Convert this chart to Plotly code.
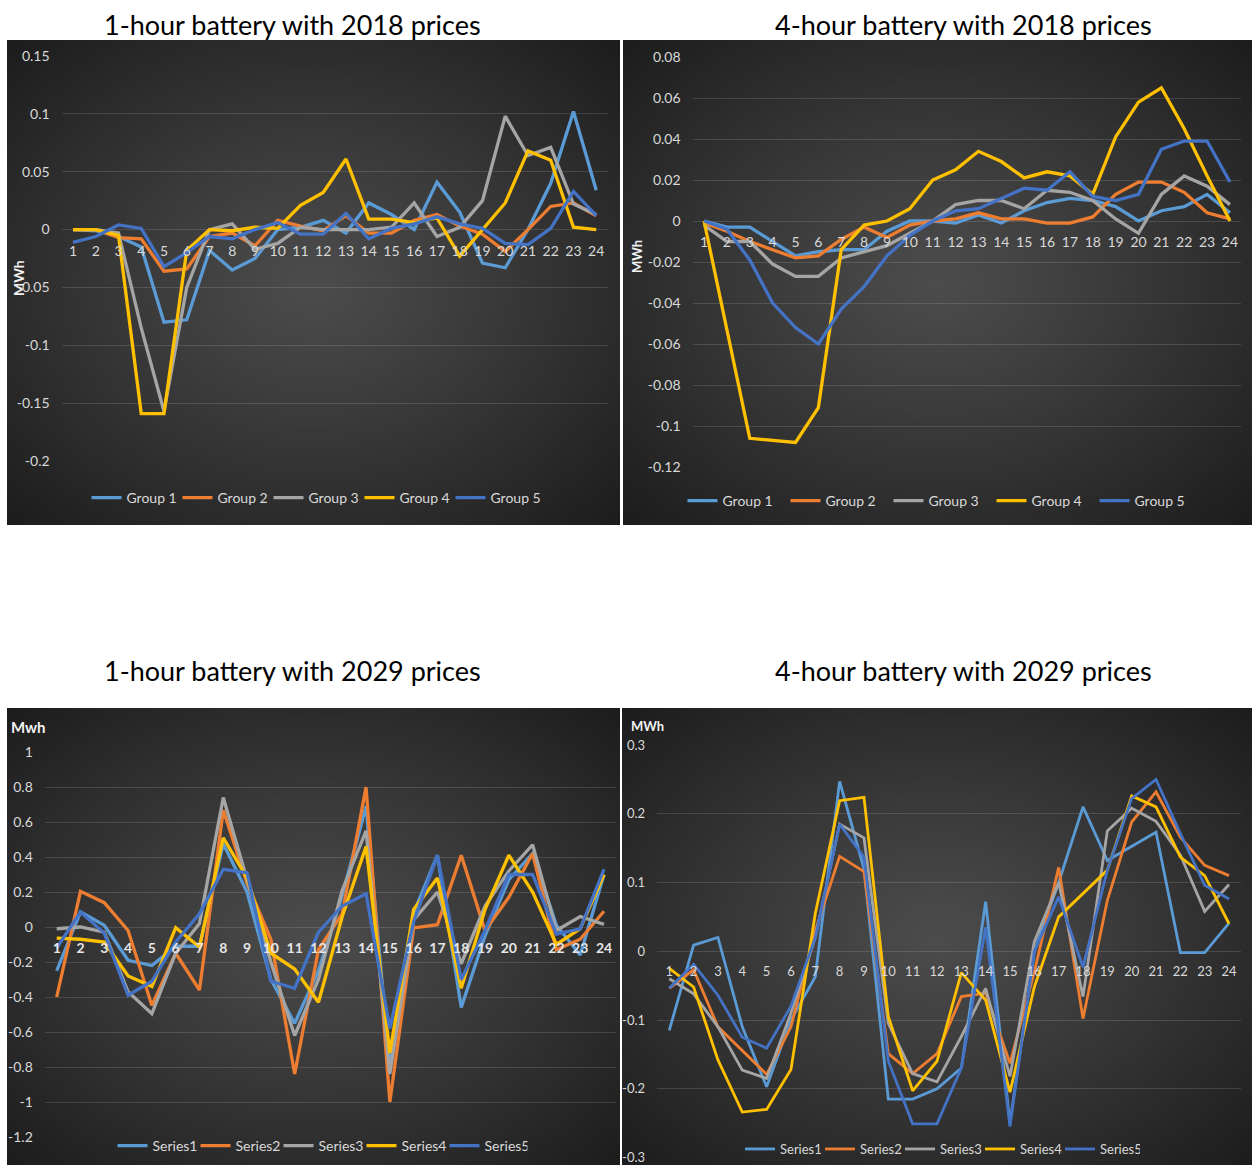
import base64, struct, zlib, math
import plotly.graph_objects as go

W, H = 1252, 1165
hours = list(range(1, 25))
hour_labels = [str(h) for h in hours]

# ---- 1-hour battery, 2018 prices (MWh)
h1_2018_g1 = [0, -0.001, -0.006, -0.015, -0.080, -0.078, -0.018, -0.035, -0.025, 0.0, 0.002, 0.008,
              -0.003, 0.023, 0.013, 0.0, 0.041, 0.015, -0.029, -0.033, 0.0, 0.040, 0.102, 0.034]
h1_2018_g2 = [0, 0, -0.007, -0.008, -0.036, -0.034, -0.006, -0.003, -0.014, 0.008, 0.003, -0.001,
              0.012, -0.003, -0.003, 0.008, 0.013, 0.003, -0.004, -0.019, 0.0, 0.020, 0.023, 0.012]
h1_2018_g3 = [0, 0, -0.003, -0.085, -0.157, -0.050, 0.0, 0.005, -0.017, -0.012, 0.002, 0.0,
              0.0, 0.0, 0.002, 0.023, -0.006, 0.002, 0.025, 0.098, 0.064, 0.071, 0.022, 0.013]
h1_2018_g4 = [0, 0, -0.005, -0.159, -0.159, -0.018, 0.0, -0.001, 0.002, 0.001, 0.021, 0.032,
              0.061, 0.009, 0.009, 0.006, 0.010, -0.023, 0.0, 0.023, 0.068, 0.060, 0.002, 0.0]
h1_2018_g5 = [-0.011, -0.006, 0.004, 0.001, -0.032, -0.020, -0.006, -0.008, 0.0, 0.006, -0.004, -0.004,
              0.014, -0.008, 0.001, 0.005, 0.011, 0.005, 0.001, -0.012, -0.013, 0.001, 0.033, 0.012]

# ---- 4-hour battery, 2018 prices (MWh)
h4_2018_g1 = [0, -0.003, -0.003, -0.010, -0.017, -0.015, -0.014, -0.014, -0.005, 0.0, 0.0, -0.001,
              0.003, -0.001, 0.005, 0.009, 0.011, 0.010, 0.007, 0.0, 0.005, 0.007, 0.013, 0.004]
h4_2018_g2 = [-0.001, -0.005, -0.010, -0.014, -0.018, -0.017, -0.009, -0.003, -0.008, -0.002, 0.0, 0.001,
              0.004, 0.001, 0.001, -0.001, -0.001, 0.002, 0.013, 0.019, 0.019, 0.014, 0.004, 0.001]
h4_2018_g3 = [-0.002, -0.010, -0.010, -0.021, -0.027, -0.027, -0.018, -0.015, -0.012, -0.006, 0.0, 0.008,
              0.010, 0.010, 0.006, 0.015, 0.014, 0.010, 0.001, -0.006, 0.013, 0.022, 0.017, 0.008]
h4_2018_g4 = [0, -0.053, -0.106, -0.107, -0.108, -0.091, -0.014, -0.002, 0.0, 0.006, 0.020, 0.025,
              0.034, 0.029, 0.021, 0.024, 0.022, 0.013, 0.041, 0.058, 0.065, 0.045, 0.022, 0.0]
h4_2018_g5 = [0, -0.004, -0.019, -0.040, -0.052, -0.060, -0.043, -0.032, -0.017, -0.007, 0.0, 0.005,
              0.006, 0.011, 0.016, 0.015, 0.024, 0.012, 0.010, 0.013, 0.035, 0.039, 0.039, 0.019]

# ---- 1-hour battery, 2029 prices (MWh)
h1_2029_s1 = [-0.25, 0.086, 0.01, -0.19, -0.22, -0.11, -0.11, 0.476, 0.20, -0.30, -0.55, -0.25,
              0.18, 0.69, -0.80, 0.08, 0.41, -0.46, -0.05, 0.27, 0.42, 0.01, -0.16, 0.30]
h1_2029_s2 = [-0.40, 0.204, 0.139, -0.02, -0.448, -0.15, -0.36, 0.667, 0.25, -0.07, -0.84, -0.13,
              0.076, 0.80, -1.0, -0.005, 0.013, 0.41, -0.02, 0.17, 0.42, -0.13, -0.07, 0.09]
h1_2029_s3 = [-0.01, 0.0, -0.03, -0.37, -0.495, -0.15, 0.02, 0.74, 0.27, -0.20, -0.62, -0.30,
              0.21, 0.55, -0.84, 0.04, 0.20, -0.21, 0.12, 0.32, 0.47, -0.02, 0.06, 0.015]
h1_2029_s4 = [-0.063, -0.07, -0.086, -0.28, -0.34, -0.004, -0.114, 0.51, 0.28, -0.15, -0.24, -0.43,
              0.06, 0.46, -0.72, 0.10, 0.28, -0.35, 0.10, 0.41, 0.20, -0.10, -0.01, 0.30]
h1_2029_s5 = [-0.12, 0.086, -0.035, -0.39, -0.31, -0.086, 0.076, 0.33, 0.31, -0.31, -0.35, -0.03,
              0.12, 0.19, -0.58, 0.03, 0.41, -0.30, -0.02, 0.30, 0.30, -0.04, -0.01, 0.33]

# ---- 4-hour battery, 2029 prices (MWh)
h4_2029_s1 = [-0.115, 0.009, 0.02, -0.11, -0.197, -0.10, -0.037, 0.247, 0.12, -0.215, -0.215, -0.20,
              -0.17, 0.072, -0.25, 0.0, 0.10, 0.21, 0.132, 0.152, 0.173, -0.002, -0.002, 0.041]
h4_2029_s2 = [-0.054, -0.027, -0.11, -0.144, -0.179, -0.11, 0.03, 0.138, 0.116, -0.149, -0.178, -0.149,
              -0.066, -0.061, -0.163, -0.03, 0.122, -0.098, 0.074, 0.188, 0.232, 0.166, 0.125, 0.11]
h4_2029_s3 = [-0.04, -0.062, -0.11, -0.173, -0.185, -0.09, 0.02, 0.185, 0.165, -0.105, -0.178, -0.19,
              -0.124, -0.054, -0.182, 0.014, 0.10, -0.066, 0.175, 0.208, 0.189, 0.14, 0.058, 0.097]
h4_2029_s4 = [-0.025, -0.052, -0.158, -0.234, -0.23, -0.172, 0.055, 0.219, 0.224, -0.095, -0.203, -0.16,
              -0.031, -0.071, -0.205, -0.052, 0.05, 0.084, 0.118, 0.226, 0.21, 0.137, 0.11, 0.04]
h4_2029_s5 = [-0.054, -0.019, -0.064, -0.125, -0.141, -0.08, 0.02, 0.185, 0.137, -0.16, -0.251, -0.251,
              -0.17, 0.035, -0.255, 0.0, 0.079, -0.023, 0.118, 0.222, 0.25, 0.171, 0.096, 0.076]

group_names = ["Group 1", "Group 2", "Group 3", "Group 4", "Group 5"]
series_names = ["Series1", "Series2", "Series3", "Series4", "Series5"]
colors = ["#5B9BD5", "#ED7D31", "#A5A5A5", "#FFC000", "#4472C4"]

FONT = "Lato, Open Sans, sans-serif"
TICK_COLOR = "#d9d9d9"


def radial_png(w, h, c_in, c_out):
    raw = bytearray()
    for j in range(h):
        raw.append(0)
        for i in range(w):
            dx = ((i + 0.5) / w - 0.5) * 2
            dy = ((j + 0.5) / h - 0.5) * 2
            r = min(1.0, math.sqrt(dx * dx + dy * dy) / math.sqrt(2))
            t = r ** 1.1
            for k in range(3):
                raw.append(int(round(c_in[k] + (c_out[k] - c_in[k]) * t)))

    def chunk(tag, data):
        return (struct.pack(">I", len(data)) + tag + data +
                struct.pack(">I", zlib.crc32(tag + data) & 0xFFFFFFFF))

    png = (b"\x89PNG\r\n\x1a\n" +
           chunk(b"IHDR", struct.pack(">IIBBBBB", w, h, 8, 2, 0, 0, 0)) +
           chunk(b"IDAT", zlib.compress(bytes(raw), 9)) +
           chunk(b"IEND", b""))
    return "data:image/png;base64," + base64.b64encode(png).decode()


BG = radial_png(160, 120, (76, 76, 76), (28, 28, 28))

fig = go.Figure()
layout = dict(
    width=W, height=H, margin=dict(l=0, r=0, t=0, b=0, pad=0, autoexpand=False),
    paper_bgcolor="white", plot_bgcolor="rgba(0,0,0,0)",
    showlegend=True, images=[], annotations=[],
)


def px_x(x):
    return x / W


def px_y(y):
    return 1 - y / H


panels = [
    dict(box=(7, 620, 40, 525), plot=(61.6, 607.6, 56, 461), yr=(-0.2, 0.15), step=0.05,
         data=[h1_2018_g1, h1_2018_g2, h1_2018_g3, h1_2018_g4, h1_2018_g5], names=group_names,
         leg=(314, 498), entry=46, title="1-hour battery with 2018 prices", title_pos=(292, 24),
         lw=3.3, tick_size=14, xbold=False, ylab=("MWh", 19, 278, -90, 14)),
    dict(box=(623, 1252, 40, 525), plot=(692.6, 1241.4, 57, 467), yr=(-0.12, 0.08), step=0.02,
         data=[h4_2018_g1, h4_2018_g2, h4_2018_g3, h4_2018_g4, h4_2018_g5], names=group_names,
         leg=(940, 501), entry=58, title="4-hour battery with 2018 prices", title_pos=(963, 24),
         lw=3.3, tick_size=14, xbold=False, ylab=("MWh", 637, 257, -90, 13)),
    dict(box=(7, 620, 708, 1165), plot=(44.8, 615.9, 752, 1137), yr=(-1.2, 1.0), step=0.2,
         data=[h1_2029_s1, h1_2029_s2, h1_2029_s3, h1_2029_s4, h1_2029_s5], names=series_names,
         leg=(320, 1146), entry=38, title="1-hour battery with 2029 prices", title_pos=(292, 670),
         lw=3.3, tick_size=14, xbold=True, ylab=("Mwh", 28, 727, 0, 15)),
    dict(box=(622, 1252, 708, 1165), plot=(657.1, 1241.2, 745, 1157.5), yr=(-0.3, 0.3), step=0.1,
         data=[h4_2029_s1, h4_2029_s2, h4_2029_s3, h4_2029_s4, h4_2029_s5], names=series_names,
         leg=(940, 1149), entry=35, title="4-hour battery with 2029 prices", title_pos=(963, 670),
         lw=2.8, tick_size=13, xbold=False, ylab=("MWh", 647, 726, 0, 13)),
]

for idx, p in enumerate(panels, start=1):
    sfx = "" if idx == 1 else str(idx)
    xa, ya = "xaxis" + sfx, "yaxis" + sfx
    lg = "legend" + sfx
    bx0, bx1, by0, by1 = p["box"]
    layout["images"].append(dict(
        source=BG, xref="paper", yref="paper", x=px_x(bx0), y=px_y(by0),
        sizex=(bx1 - bx0) / W, sizey=(by1 - by0) / H, sizing="stretch",
        xanchor="left", yanchor="top", layer="below"))

    l, r, t, b = p["plot"]
    ydom = [px_y(b), px_y(t)]
    ymin, ymax = p["yr"]
    zero_pos = ydom[0] + (0 - ymin) / (ymax - ymin) * (ydom[1] - ydom[0])

    n = int(round((ymax - ymin) / p["step"]))
    tv = [round(ymin + k * p["step"], 4) for k in range(n + 1)]
    tt = ["{:g}".format(v) for v in tv]

    xfont = dict(family=FONT, size=p["tick_size"], color="#e6e6e6" if p["xbold"] else TICK_COLOR)
    layout[xa] = dict(
        domain=[px_x(l), px_x(r)], range=[0.5, 24.5], anchor="free", position=zero_pos,
        tickmode="array", tickvals=hours,
        ticktext=[("<b>%s</b>" % s) if p["xbold"] else s for s in hour_labels],
        showgrid=False, zeroline=False, showline=False, ticks="", ticklabelstandoff=11,
        tickfont=xfont, fixedrange=True, automargin=False, ticklabeloverflow="allow")
    layout[ya] = dict(
        domain=ydom, range=[ymin, ymax], anchor="x" + sfx,
        tickmode="array", tickvals=tv, ticktext=tt,
        showgrid=True, gridcolor="rgba(255,255,255,0.13)", gridwidth=1,
        zeroline=False, showline=False, ticks="", ticklabelstandoff=11,
        tickfont=dict(family=FONT, size=p["tick_size"], color=TICK_COLOR),
        fixedrange=True, automargin=False, ticklabeloverflow="allow")

    for k, (vals, name) in enumerate(zip(p["data"], p["names"])):
        fig.add_trace(go.Scatter(
            x=hours, y=vals, name=name, mode="lines",
            line=dict(color=colors[k], width=p["lw"]),
            xaxis="x" + sfx, yaxis="y" + sfx, legend=lg))

    lx, ly = p["leg"]
    layout[lg] = dict(
        orientation="h", x=px_x(lx), y=px_y(ly), xanchor="center", yanchor="middle",
        bgcolor="rgba(0,0,0,0)", borderwidth=0, itemwidth=30,
        entrywidth=p["entry"], entrywidthmode="pixels",
        font=dict(family=FONT, size=p["tick_size"], color=TICK_COLOR))

    tx, ty = p["title_pos"]
    layout["annotations"].append(dict(
        text=p["title"], x=px_x(tx), y=px_y(ty), xref="paper", yref="paper",
        showarrow=False, xanchor="center", yanchor="middle",
        font=dict(family=FONT, size=27, color="black")))

    txt, yx, yy, ang, fs = p["ylab"]
    layout["annotations"].append(dict(
        text="<b>%s</b>" % txt, x=px_x(yx), y=px_y(yy), xref="paper", yref="paper",
        showarrow=False, xanchor="center", yanchor="middle", textangle=ang,
        font=dict(family=FONT, size=fs, color="#f2f2f2")))

fig.update_layout(**layout)

# place the figure flush with the page's top-left corner (no default body margin)
POST = (
    "document.documentElement.style.margin='0';"
    "document.body.style.margin='0';document.body.style.overflow='hidden';"
    "var gd=document.getElementById('{plot_id}');"
    "gd.style.position='absolute';gd.style.left='0px';gd.style.top='0px';"
)
fig.write_html("out.html", post_script=POST, config={"displayModeBar": False})
